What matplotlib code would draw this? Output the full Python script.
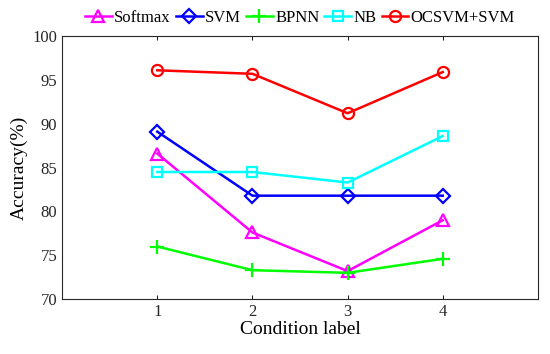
import matplotlib
matplotlib.use("Agg")
import matplotlib.pyplot as plt

conditions = [1, 2, 3, 4]
softmax = [86.6, 77.6, 73.2, 79.0]
svm = [89.1, 81.8, 81.8, 81.8]
bpnn = [76.0, 73.3, 73.0, 74.6]
nb = [84.5, 84.5, 83.3, 88.6]
ocsvm = [96.1, 95.7, 91.2, 95.9]

plt.rcParams['font.family'] = ['Liberation Serif', 'DejaVu Serif']

fig = plt.figure(figsize=(5.5, 3.54), dpi=100)
ax = fig.add_axes([0.113, 0.155, 0.865, 0.743])

series = [
    ("Softmax", softmax, "#ff00ff", "^"),
    ("SVM", svm, "#0000ff", "D"),
    ("BPNN", bpnn, "#00ff00", "+"),
    ("NB", nb, "#00ffff", "s"),
    ("OCSVM+SVM", ocsvm, "#ff0000", "o"),
]
sizes = {"^": 9, "D": 7, "+": 10, "s": 6.5, "o": 8}
for name, vals, col, mk in series:
    ax.plot(conditions, vals, color=col, marker=mk, lw=1.8, ms=sizes[mk],
            mfc='none', mec=col, mew=1.6, label=name)

ax.set_xlim(0, 5)
ax.set_ylim(70, 100)
ax.set_xticks(conditions)
ax.set_yticks([70, 75, 80, 85, 90, 95, 100])
ax.tick_params(axis='both', direction='in', labelsize=12, colors='#262626',
               top=True, right=False, length=3)
ax.tick_params(axis='y', length=0)
for s in ax.spines.values():
    s.set_color('#262626')
    s.set_linewidth(0.8)
ax.set_xlabel("Condition label", fontsize=14, labelpad=1)
ax.set_ylabel("Accuracy(%)", fontsize=14, labelpad=3)

ax.legend(loc='lower center', bbox_to_anchor=(0.5, 1.0), ncol=5, frameon=False,
          fontsize=12, handlelength=1.6, handletextpad=0.15, columnspacing=0.3,
          borderaxespad=0.2)

fig.savefig("out.png", dpi=100)
